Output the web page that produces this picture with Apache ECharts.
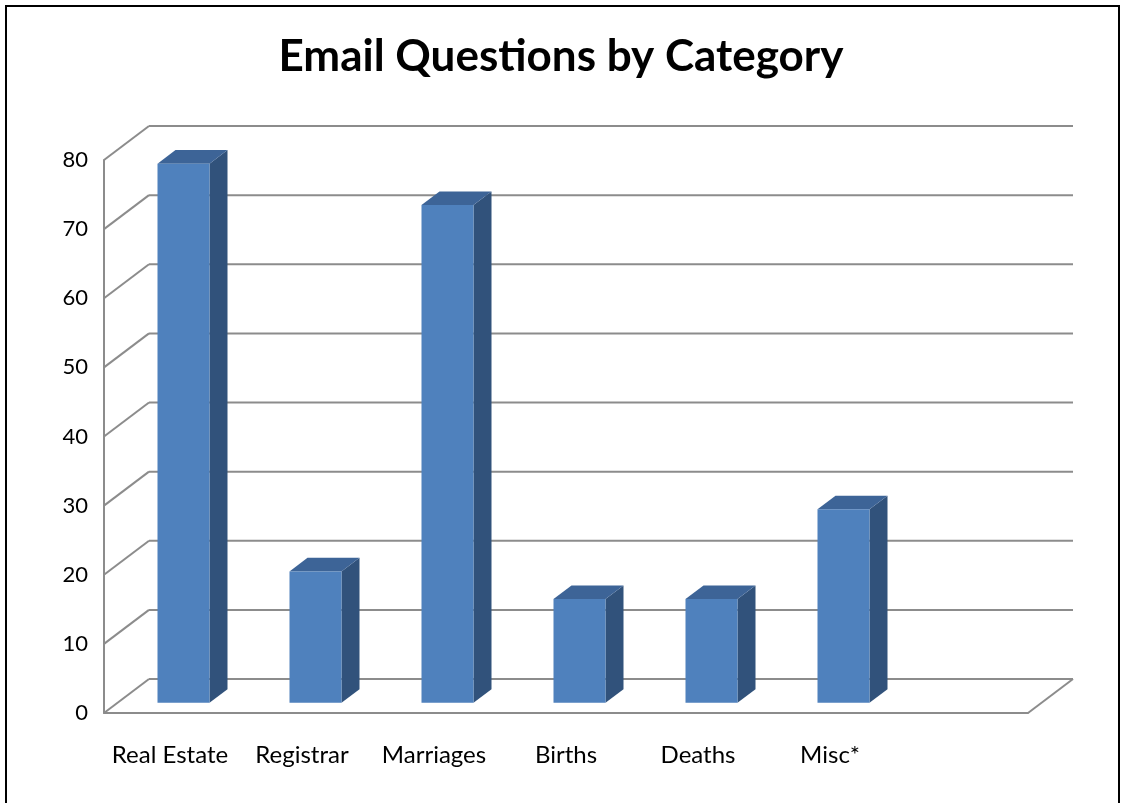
<!DOCTYPE html>
<html>
<head>
<meta charset="utf-8">
<title>Email Questions by Category</title>
<script src="https://cdn.jsdelivr.net/npm/echarts@6/dist/echarts.min.js"></script>
<style>
  html, body { margin: 0; padding: 0; background: #ffffff; }
  #chart { width: 1122px; height: 803px; }
</style>
</head>
<body>
<div id="chart"></div>
<script>
// Chart data
const titleText = 'Email Questions by Category';
const categories = ['Real Estate', 'Registrar', 'Marriages', 'Births', 'Deaths', 'Misc*', ''];
const questions = [78, 19, 72, 15, 15, 28];
const yTicks = [0, 10, 20, 30, 40, 50, 60, 70, 80];

// Pseudo-3D depth of the plot box (pixels) and bar placement inside it
const DEPTH_X = 45;
const DEPTH_Y = -34;
const BAR_FRONT = 0.30;   // fraction of the depth where a bar's front face sits
const BAR_BACK = 0.70;    // fraction of the depth where a bar's back face sits
const BAR_WIDTH = 0.394;  // bar width as a fraction of the category slot

const GRID_COLOR = '#8c8c8c';
const FACE_FRONT = '#4f81bd';
const FACE_TOP = '#3d6497';
const FACE_SIDE = '#31527b';
const FONT = 'Lato, "Open Sans", sans-serif';

const chart = echarts.init(document.getElementById('chart'), null, { renderer: 'canvas' });

// Back wall gridlines plus the diagonal floor/side edges
function renderWall(params, api) {
  const cs = params.coordSys;
  const v = api.value(1);
  const y = api.coord([0, v])[1];
  const x0 = cs.x;
  const x1 = cs.x + cs.width;
  const style = { stroke: GRID_COLOR, lineWidth: 2, fill: null };
  const children = [
    { type: 'line', shape: { x1: x0, y1: y, x2: x0 + DEPTH_X, y2: y + DEPTH_Y }, style },
    { type: 'line', shape: { x1: x0 + DEPTH_X, y1: y + DEPTH_Y, x2: x1 + DEPTH_X, y2: y + DEPTH_Y }, style }
  ];
  if (v === 0) {
    children.push({ type: 'line', shape: { x1: x1, y1: y, x2: x1 + DEPTH_X, y2: y + DEPTH_Y }, style });
  }
  return { type: 'group', children };
}

// 3D column: front face, top face and right side face
function renderBar(params, api) {
  const idx = api.value(0);
  const val = api.value(1);
  const base = api.coord([idx, 0]);
  const top = api.coord([idx, val]);
  const slot = api.size([1, 0])[0];
  const bw = slot * BAR_WIDTH;
  const fx = DEPTH_X * BAR_FRONT, fy = DEPTH_Y * BAR_FRONT;
  const bx = DEPTH_X * BAR_BACK, by = DEPTH_Y * BAR_BACK;
  const l = base[0] - bw / 2 + fx;
  const r = base[0] + bw / 2 + fx;
  const yb = base[1] + fy;
  const yt = top[1] + fy;
  const dx = bx - fx, dy = by - fy;
  return {
    type: 'group',
    children: [
      { type: 'polygon', shape: { points: [[r, yb], [r + dx, yb + dy], [r + dx, yt + dy], [r, yt]] }, style: { fill: FACE_SIDE } },
      { type: 'polygon', shape: { points: [[l, yt], [r, yt], [r + dx, yt + dy], [l + dx, yt + dy]] }, style: { fill: FACE_TOP } },
      { type: 'rect', shape: { x: l, y: yt, width: r - l, height: yb - yt }, style: { fill: FACE_FRONT } }
    ]
  };
}

const option = {
  backgroundColor: '#ffffff',
  animation: false,
  title: {
    text: titleText,
    left: 'center',
    top: 30,
    textStyle: { fontFamily: FONT, fontWeight: 'bold', fontSize: 44, color: '#000000' }
  },
  graphic: [
    { type: 'rect', shape: { x: 6, y: 6, width: 1113, height: 820 }, style: { fill: null, stroke: '#000000', lineWidth: 2 }, z: 100 }
  ],
  grid: { left: 104, right: 94, top: 160, bottom: 90 },
  xAxis: {
    type: 'category',
    data: categories,
    axisLine: { show: true, lineStyle: { color: GRID_COLOR, width: 2 } },
    axisTick: { show: false },
    axisLabel: { color: '#000000', fontFamily: FONT, fontSize: 24, margin: 30, interval: 0 },
    splitLine: { show: false }
  },
  yAxis: {
    type: 'value',
    min: 0,
    max: 80,
    interval: 10,
    axisLine: { show: true, lineStyle: { color: GRID_COLOR, width: 2 } },
    axisTick: { show: false },
    axisLabel: { color: '#000000', fontFamily: FONT, fontSize: 22, margin: 16 },
    splitLine: { show: false }
  },
  series: [
    {
      type: 'custom',
      name: 'wall',
      renderItem: renderWall,
      data: yTicks.map(t => [0, t]),
      encode: { x: 0, y: 1 },
      silent: true,
      z: 1
    },
    {
      type: 'custom',
      name: 'Questions',
      renderItem: renderBar,
      data: questions.map((v, i) => [i, v]),
      encode: { x: 0, y: 1 },
      z: 2
    }
  ]
};

chart.setOption(option);
</script>
</body>
</html>
